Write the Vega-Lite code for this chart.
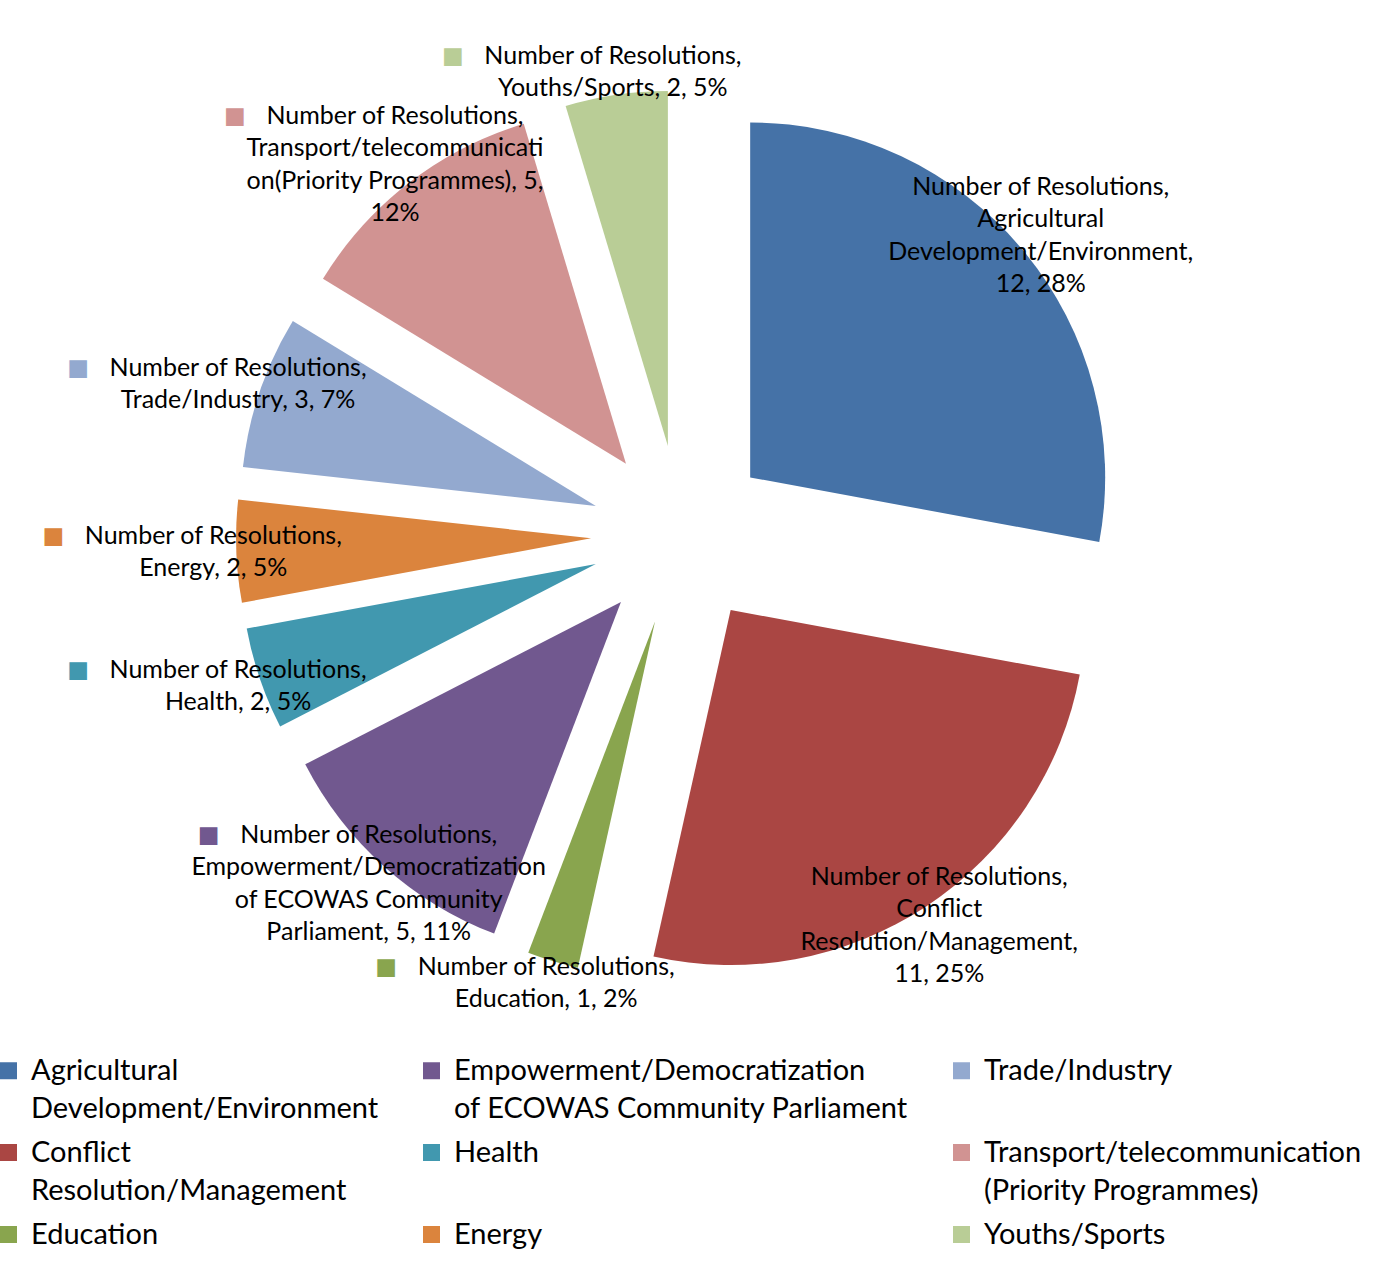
{
  "$schema": "https://vega.github.io/schema/vega-lite/v6.json",
  "width": 1362,
  "height": 1070,
  "autosize": {"type": "none"},
  "padding": {"left": 0, "top": 0, "right": 22, "bottom": 205},
  "background": "white",
  "config": {"view": {"stroke": null}, "font": "Lato"},
  "data": {
    "values": [
      {"rank": 1, "category": "Agricultural Development/Environment", "legend": "Agricultural|Development/Environment", "value": 12, "label": "Number of Resolutions,\nAgricultural\nDevelopment/Environment,\n12, 28%"},
      {"rank": 2, "category": "Conflict Resolution/Management", "legend": "Conflict|Resolution/Management", "value": 11, "label": "Number of Resolutions,\nConflict\nResolution/Management,\n11, 25%"},
      {"rank": 3, "category": "Education", "legend": "Education", "value": 1, "label": "Number of Resolutions,\nEducation, 1, 2%"},
      {"rank": 4, "category": "Empowerment/Democratization of ECOWAS Community Parliament", "legend": "Empowerment/Democratization|of ECOWAS Community Parliament", "value": 5, "label": "Number of Resolutions,\nEmpowerment/Democratization\nof ECOWAS Community\nParliament, 5, 11%"},
      {"rank": 5, "category": "Health", "legend": "Health", "value": 2, "label": "Number of Resolutions,\nHealth, 2, 5%"},
      {"rank": 6, "category": "Energy", "legend": "Energy", "value": 2, "label": "Number of Resolutions,\nEnergy, 2, 5%"},
      {"rank": 7, "category": "Trade/Industry", "legend": "Trade/Industry|", "value": 3, "label": "Number of Resolutions,\nTrade/Industry, 3, 7%"},
      {"rank": 8, "category": "Transport/telecommunication (Priority Programmes)", "legend": "Transport/telecommunication|(Priority Programmes)", "value": 5, "label": "Number of Resolutions,\nTransport/telecommunicati\non(Priority Programmes), 5,\n12%"},
      {"rank": 9, "category": "Youths/Sports", "legend": "Youths/Sports", "value": 2, "label": "Number of Resolutions,\nYouths/Sports, 2, 5%"}
    ]
  },
  "encoding": {
    "theta": {"field": "value", "type": "quantitative", "stack": true},
    "order": {"field": "rank", "type": "quantitative"}
  },
  "layer": [
    {
      "mark": {
        "type": "arc",
        "radius": 355,
        "xOffset": {"expr": "90*sin(scale('theta',(datum.value_start+datum.value_end)/2))"},
        "yOffset": {"expr": "-90*cos(scale('theta',(datum.value_start+datum.value_end)/2))"}
      },
      "encoding": {
        "color": {
          "field": "legend",
          "type": "nominal",
          "scale": {
            "domain": ["Agricultural|Development/Environment", "Conflict|Resolution/Management", "Education", "Empowerment/Democratization|of ECOWAS Community Parliament", "Health", "Energy", "Trade/Industry|", "Transport/telecommunication|(Priority Programmes)", "Youths/Sports"],
            "range": ["#4572A7", "#AA4643", "#89A54E", "#71588F", "#4198AF", "#DB843D", "#93A9CF", "#D19392", "#B9CD96"]
          },
          "legend": {
            "orient": "none",
            "legendX": -6,
            "legendY": 1056,
            "columns": 3,
            "title": null,
            "symbolType": "square",
            "symbolSize": 289,
            "symbolStrokeWidth": 0,
            "labelFont": "Lato",
            "labelFontSize": 29,
            "labelColor": "black",
            "labelLimit": 0,
            "labelOffset": 8,
            "columnPadding": 38,
            "rowPadding": 14,
            "padding": 0,
            "labelExpr": "split(datum.label, '|')",
            "encoding": {"labels": {"lineHeight": {"value": 38}}}
          }
        }
      }
    },
    {
      "mark": {
        "type": "text",
        "radius": 378,
        "lineBreak": "\n",
        "font": "Lato",
        "fontSize": 25,
        "lineHeight": 32.5,
        "align": "center",
        "baseline": "middle",
        "color": "black",
        "xOffset": {"expr": "90*sin(scale('theta',(datum.value_start+datum.value_end)/2))"},
        "yOffset": {"expr": "-90*cos(scale('theta',(datum.value_start+datum.value_end)/2)) - (length(split(datum.label, '\\n'))-1)*16.25"}
      },
      "encoding": {"text": {"field": "label", "type": "nominal"}}
    },
    {
      "mark": {
        "type": "text",
        "radius": 378,
        "text": "■",
        "font": "DejaVu Sans",
        "fontSize": 23,
        "align": "center",
        "baseline": "middle",
        "xOffset": {"expr": "90*sin(scale('theta',(datum.value_start+datum.value_end)/2)) - 160"},
        "yOffset": {"expr": "-90*cos(scale('theta',(datum.value_start+datum.value_end)/2)) - (length(split(datum.label, '\\n'))-1)*16.25"}
      },
      "encoding": {
        "color": {"field": "legend", "type": "nominal"}
      }
    }
  ]
}
